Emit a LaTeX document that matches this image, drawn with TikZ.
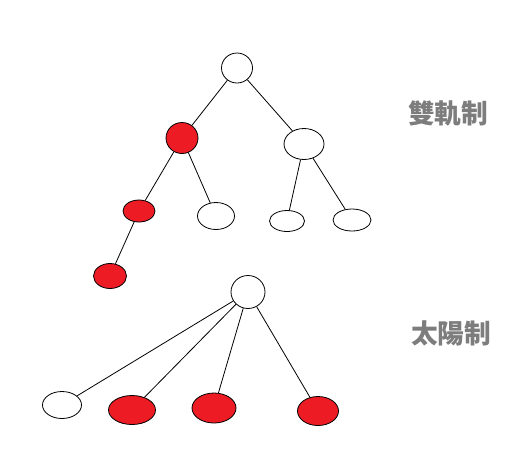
\documentclass[tikz,border=0pt]{standalone}
\usepackage{fontspec}
\newfontfamily\cjk{Noto Sans CJK TC}
\usepackage{tikz}
\usetikzlibrary{shapes.geometric}
\definecolor{paintred}{RGB}{237,28,36}
\definecolor{labelgray}{RGB}{125,125,125}

\begin{document}
\begin{tikzpicture}[x=0.75pt, y=-0.75pt,
        wnode/.style={draw, ellipse, inner sep=0pt, line width=0.6pt, fill=white},
        rnode/.style={wnode, fill=paintred},
        lbl/.style={text=labelgray, font=\cjk\bfseries\fontsize{20}{24}\selectfont}]
        \useasboundingbox (0,0) rectangle (513,451);
        % Arbol 1: raiz y primer nivel
        \node[wnode, minimum width=23.25pt, minimum height=22.5pt] (root) at (237,68) {};
        \node[rnode, minimum width=24pt, minimum height=23.25pt] (a) at (182,138) {};
        \node[wnode, minimum width=30pt, minimum height=23.25pt] (b) at (304,144) {};
        % Segundo nivel
        \node[rnode, minimum width=24pt, minimum height=16.5pt] (aa) at (139,211) {};
        \node[wnode, minimum width=27.75pt, minimum height=20.25pt] (ab) at (216,216) {};
        \node[wnode, minimum width=26.25pt, minimum height=15.75pt] (ba) at (287,221) {};
        \node[wnode, minimum width=28.5pt, minimum height=16.5pt] (bb) at (352,220) {};
        % Tercer nivel
        \node[rnode, minimum width=24.75pt, minimum height=18.75pt] (aaa) at (110,276) {};
        % Aristas del arbol 1
        \draw[line width=0.6pt] (root) -- (a);
        \draw[line width=0.6pt] (root) -- (b);
        \draw[line width=0.6pt] (a) -- (aa);
        \draw[line width=0.6pt] (a) -- (ab);
        \draw[line width=0.6pt] (b) -- (ba);
        \draw[line width=0.6pt] (b) -- (bb);
        \draw[line width=0.6pt] (aa) -- (aaa);
        % Arbol 2: raiz con cuatro hojas
        \node[wnode, minimum width=25.5pt, minimum height=24.75pt] (sun) at (248,292) {};
        \node[wnode, minimum width=29.25pt, minimum height=20.25pt] (p1) at (62,405) {};
        \node[rnode, minimum width=35.25pt, minimum height=21.75pt] (p2) at (132,410) {};
        \node[rnode, minimum width=33pt, minimum height=22.5pt] (p3) at (214,408) {};
        \node[rnode, minimum width=30.75pt, minimum height=21.75pt] (p4) at (318,411) {};
        % Aristas del arbol 2
        \foreach \p in {p1,p2,p3,p4}
            \draw[line width=0.6pt] (sun) -- (\p);
        % Etiquetas
        \node[lbl] (dual) at (448,113) {雙軌制};
        \node[lbl] (solar) at (451,333) {太陽制};
    \end{tikzpicture}
\end{document}
